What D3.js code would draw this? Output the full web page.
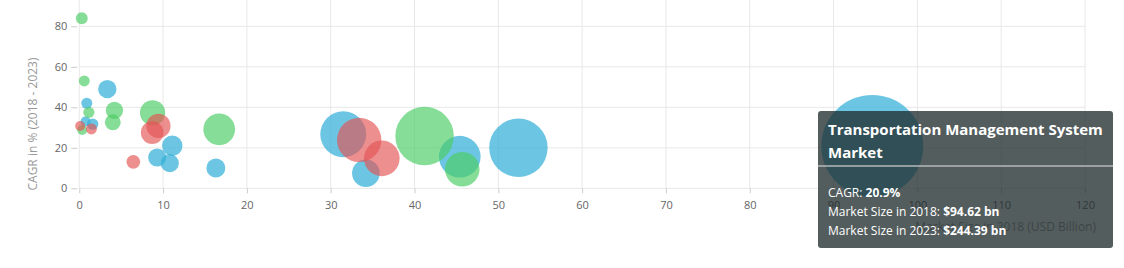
<!DOCTYPE html>
<html>
<head>
<meta charset="utf-8">
<script src="https://cdn.jsdelivr.net/npm/d3@7"></script>
<style>
  body { margin: 0; background: #fff; }
  svg { display: block; font-family: "Open Sans", sans-serif; }
</style>
</head>
<body>
<div id="chart"></div>
<script>
  const w = 1124, h = 268;

  // market size 2018 (USD bn), CAGR 2018-2023 (%), market size 2023 (USD bn)
  const blueX = [3.35, 0.9, 0.75, 1.6, 11.1, 9.3, 10.8, 16.3, 31.5, 34.2, 45.4, 52.4, 94.62];
  const blueY = [49, 42, 33, 31.7, 21, 15.2, 12.4, 10, 26.7, 7.4, 15.6, 20, 20.9];
  const blueZ = [24.6, 5.2, 3.1, 6.3, 30, 24, 24, 26.2, 97, 48.9, 86, 130, 244.39];

  const greenX = [0.3, 0.6, 1.15, 4.2, 4.0, 0.35, 8.75, 16.7, 41.2, 45.7];
  const greenY = [84, 53, 37.5, 38.5, 32.6, 28.8, 37.3, 29.1, 25.8, 9.4];
  const greenZ = [7.5, 5.0, 5.7, 21.8, 18, 2.5, 42.6, 59.8, 130, 67];

  const redX = [0.1, 1.45, 9.45, 8.7, 6.45, 33.4, 36.1];
  const redY = [30.8, 29.3, 30.8, 27.5, 13.1, 23.9, 14.8];
  const redZ = [2.5, 5.2, 40, 36, 12.5, 93, 70];

  const xTicks = [0, 10, 20, 30, 40, 50, 60, 70, 80, 90, 100, 110, 120];
  const yTicks = [0, 20, 40, 60, 80];

  const tipTitle = ["Transportation Management System", "Market"];
  const tipRows = [["CAGR: ", "20.9%"], ["Market Size in 2018: ", "$94.62 bn"], ["Market Size in 2023: ", "$244.39 bn"]];

  const series = [
    { x: blueX, y: blueY, z: blueZ, color: "#33b0d8", opacity: 0.72 },
    { x: greenX, y: greenY, z: greenZ, color: "#4ccd66", opacity: 0.68 },
    { x: redX, y: redY, z: redZ, color: "#e45353", opacity: 0.65 }
  ];

  const x = d3.scaleLinear().domain([0, 120]).range([79.25, 1085]);
  const y = d3.scaleLinear().domain([0, 80]).range([188.3, 26.3]);
  const r = d3.scaleLinear().domain([0, 244.39]).range([4.5, 51]);

  const svg = d3.select("#chart").append("svg")
    .attr("width", w)
    .attr("height", h);

  // grid
  svg.append("g").selectAll("line").data(xTicks).join("line")
    .attr("x1", d => x(d)).attr("x2", d => x(d))
    .attr("y1", 0).attr("y2", y(0))
    .style("stroke", "#e8e8e8").style("stroke-width", "1px");
  svg.append("g").selectAll("line").data(yTicks).join("line")
    .attr("x1", x(0)).attr("x2", x(120))
    .attr("y1", d => y(d)).attr("y2", d => y(d))
    .style("stroke", "#e8e8e8").style("stroke-width", "1px");

  // axes
  const xAxis = svg.append("g")
    .attr("transform", `translate(0,${y(0)})`)
    .call(d3.axisBottom(x).tickValues(xTicks).tickSize(5).tickPadding(8));
  const yAxis = svg.append("g")
    .attr("transform", `translate(${x(0) - 2},0)`)
    .call(d3.axisLeft(y).tickValues(yTicks).tickSize(6).tickPadding(4));
  [xAxis, yAxis].forEach(a => {
    a.select(".domain").remove();
    a.selectAll("line").style("stroke", "#ccc");
    a.selectAll("text").style("fill", "#666").style("font-size", "11px")
      .style("font-family", "'Open Sans', sans-serif");
  });

  svg.append("text")
    .attr("transform", `translate(37,${124}) rotate(-90)`)
    .attr("text-anchor", "middle")
    .style("fill", "#999").style("font-size", "12px")
    .text("CAGR in % (2018 - 2023)");

  svg.append("text")
    .attr("x", 1096).attr("y", 231)
    .attr("text-anchor", "end")
    .style("fill", "#999").style("font-size", "12px")
    .text("Market Size in 2018 (USD Billion)");

  // bubbles
  series.forEach(s => {
    svg.append("g").selectAll("circle").data(s.x.map((v, i) => [v, s.y[i], s.z[i]])).join("circle")
      .attr("cx", d => x(d[0]))
      .attr("cy", d => y(d[1]))
      .attr("r", d => r(d[2]))
      .style("fill", s.color)
      .style("fill-opacity", s.opacity);
  });

  // tooltip
  const tip = svg.append("g").attr("transform", "translate(818,111)");
  tip.append("rect")
    .attr("width", 295).attr("height", 137).attr("rx", 3)
    .style("fill", "rgb(30,42,44)").style("fill-opacity", 0.76);
  tip.append("line")
    .attr("x1", 0).attr("x2", 295).attr("y1", 55).attr("y2", 55)
    .style("stroke", "#b5b8b8").style("stroke-width", "1.5px");
  tip.selectAll("text.title").data(tipTitle).join("text")
    .attr("class", "title")
    .attr("x", 10).attr("y", (d, i) => 24 + i * 23)
    .style("fill", "#fff").style("font-size", "15px").style("font-weight", "bold")
    .text(d => d);
  const rows = tip.selectAll("text.row").data(tipRows).join("text")
    .attr("class", "row")
    .attr("x", 10).attr("y", (d, i) => 86 + i * 19)
    .style("fill", "#fff").style("font-size", "12px");
  rows.append("tspan").text(d => d[0]);
  rows.append("tspan").style("font-weight", "bold").text(d => d[1]);
</script>
</body>
</html>
